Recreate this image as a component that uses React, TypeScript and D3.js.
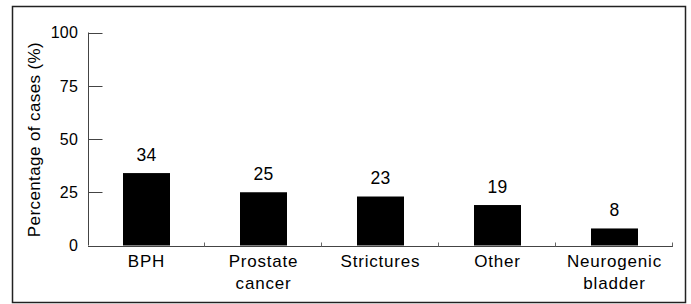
import { useEffect, useRef } from 'react'
import * as d3 from 'd3'

const categories = ['BPH', 'Prostate\ncancer', 'Strictures', 'Other', 'Neurogenic\nbladder']
const percentages = [34, 25, 23, 19, 8]
const yTicks = [0, 25, 50, 75, 100]

export default function App() {
  const ref = useRef<SVGSVGElement>(null)

  useEffect(() => {
    const width = 691
    const height = 304
    const svg = d3.select(ref.current)
    svg.selectAll('*').remove()
    svg.attr('viewBox', `0 0 ${width} ${height}`)

    const font = 'Liberation Sans, Arial, Helvetica, sans-serif'

    // outer frame
    svg.append('rect')
      .attr('x', 12.5).attr('y', 6.5)
      .attr('width', 673).attr('height', 296)
      .attr('fill', 'none').attr('stroke', '#222').attr('stroke-width', 1.5)

    const x = d3.scaleBand().domain(categories).range([88, 673]).paddingInner(0).paddingOuter(0)
    const y = d3.scaleLinear().domain([0, 100]).range([245.5, 32.5])

    // y axis
    const ya = svg.append('g').attr('transform', 'translate(88.5,0)')
    ya.append('line').attr('y1', y(100)).attr('y2', y(0)).attr('stroke', '#444')
    ya.selectAll('line.tick').data(yTicks).enter().append('line')
      .attr('class', 'tick')
      .attr('x1', 0).attr('x2', 14)
      .attr('y1', d => Math.round(y(d)) + 0.5).attr('y2', d => Math.round(y(d)) + 0.5)
      .attr('stroke', '#444')
    ya.selectAll('text').data(yTicks).enter().append('text')
      .attr('x', -10.5).attr('y', d => y(d)).attr('dy', '0.36em')
      .attr('text-anchor', 'end')
      .style('font-family', font).style('font-size', '16px').style('letter-spacing', '0.2px')
      .text(d => d)

    // x axis
    const y0 = Math.round(y(0)) + 0.5
    svg.append('line').attr('x1', 88).attr('x2', 673).attr('y1', y0).attr('y2', y0).attr('stroke', '#444')
    const bounds = categories.slice(1).map(c => x(c)!).concat([673])
    svg.selectAll('line.xtick').data(bounds).enter().append('line')
      .attr('class', 'xtick')
      .attr('x1', d => Math.round(d) - 0.5).attr('x2', d => Math.round(d) - 0.5)
      .attr('y1', y0).attr('y2', y0 - 4)
      .attr('stroke', '#666')

    const barW = 47
    svg.selectAll('rect.bar').data(percentages).enter().append('rect')
      .attr('class', 'bar')
      .attr('x', (d, i) => x(categories[i])! + x.bandwidth() / 2 - barW / 2)
      .attr('y', d => y(d))
      .attr('width', barW)
      .attr('height', d => y(0) - y(d))
      .attr('fill', '#000')

    svg.selectAll('text.val').data(percentages).enter().append('text')
      .attr('class', 'val')
      .attr('x', (d, i) => x(categories[i])! + x.bandwidth() / 2)
      .attr('y', d => y(d) - 12.5)
      .attr('text-anchor', 'middle')
      .style('font-family', font).style('font-size', '17.5px').style('letter-spacing', '0.3px')
      .text(d => d)

    const labels = svg.selectAll('text.cat').data(categories).enter().append('text')
      .attr('class', 'cat')
      .attr('x', d => x(d)! + x.bandwidth() / 2)
      .attr('y', 267)
      .attr('text-anchor', 'middle')
      .style('font-family', font).style('font-size', '17px').style('letter-spacing', '0.8px')
    labels.each(function (d) {
      const t = d3.select(this)
      d.split('\n').forEach((line, i) => {
        t.append('tspan')
          .attr('x', x(d)! + x.bandwidth() / 2)
          .attr('dy', i === 0 ? 0 : 21.5)
          .text(line)
      })
    })

    svg.append('text')
      .attr('transform', 'translate(40,139.5) rotate(-90)')
      .attr('text-anchor', 'middle')
      .style('font-family', font).style('font-size', '17px').style('letter-spacing', '0.4px')
      .text('Percentage of cases (%)')
  }, [])

  return <svg ref={ref} width={691} height={304} style={{ position: 'absolute', left: 0, top: 0 }} />
}
